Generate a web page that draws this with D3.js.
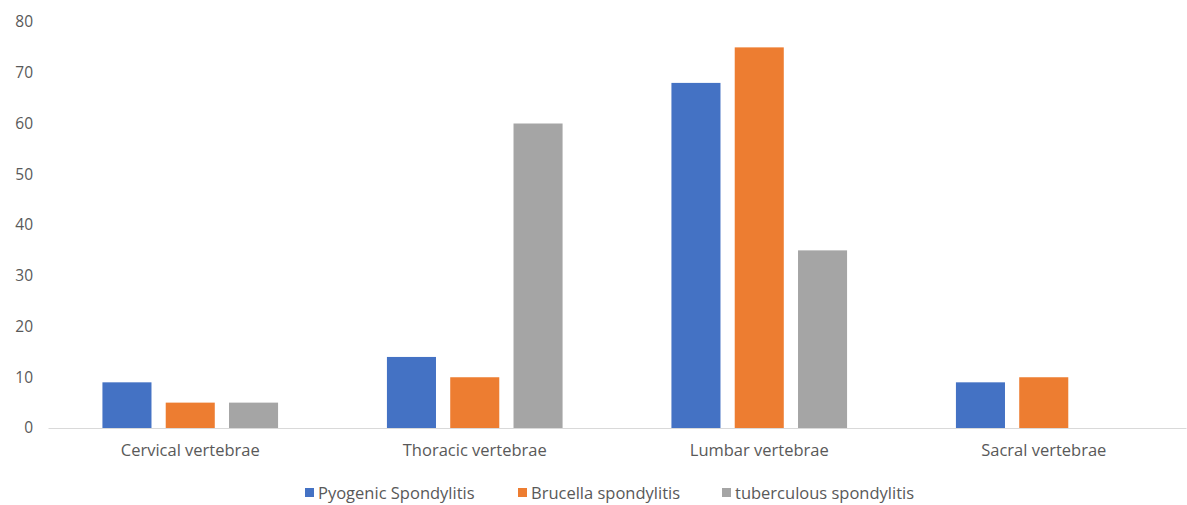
<!DOCTYPE html>
<html>
<head>
<meta charset="utf-8">
<script src="https://cdn.jsdelivr.net/npm/d3@7"></script>
<style>
  html, body { margin: 0; padding: 0; background: #fff; }
  svg { display: block; }
  text { font-family: "Open Sans", "Liberation Sans", sans-serif; fill: #595959; }
</style>
</head>
<body>
<svg id="chart" width="1187" height="505"></svg>
<script>
// Spinal segment involvement by spondylitis type
const categories = ["Cervical vertebrae", "Thoracic vertebrae", "Lumbar vertebrae", "Sacral vertebrae"];
const seriesNames = ["Pyogenic Spondylitis", "Brucella spondylitis", "tuberculous spondylitis"];
const pyogenic = [9, 14, 68, 9];
const brucella = [5, 10, 75, 10];
const tuberculous = [5, 60, 35, 0];
const yTicks = [0, 10, 20, 30, 40, 50, 60, 70, 80];
const colors = ["#4472C4", "#ED7D31", "#A5A5A5"];

const seriesValues = [pyogenic, brucella, tuberculous];

const svg = d3.select("#chart");
const margin = { left: 48, right: 1, top: 22, bottom: 428 };

const x0 = d3.scaleBand()
  .domain(categories)
  .range([margin.left, 1187 - margin.right])
  .paddingInner(0)
  .paddingOuter(0);

const x1 = d3.scaleBand()
  .domain(seriesNames)
  .range([0, x0.bandwidth()])
  .paddingInner(0.225)
  .paddingOuter(0.86);

const y = d3.scaleLinear()
  .domain([0, 80])
  .range([margin.bottom, margin.top]);

// Bars
const groups = svg.append("g")
  .selectAll("g")
  .data(categories)
  .join("g")
  .attr("transform", d => `translate(${x0(d)},0)`);

groups.selectAll("rect")
  .data((c, ci) => seriesNames.map((s, si) => ({ s, si, v: seriesValues[si][ci] })))
  .join("rect")
  .attr("x", d => x1(d.s))
  .attr("width", x1.bandwidth())
  .attr("y", d => y(d.v))
  .attr("height", d => y(0) - y(d.v))
  .attr("fill", d => colors[d.si]);

// Category axis
const xAxis = svg.append("g")
  .attr("transform", `translate(0,${y(0)})`)
  .call(d3.axisBottom(x0).tickSize(0).tickPadding(16));
xAxis.select(".domain").attr("stroke", "#d9d9d9").attr("stroke-width", 1.2);
xAxis.selectAll("text")
  .style("font-family", "'Open Sans', sans-serif")
  .style("font-size", "16.5px")
  .attr("fill", "#595959");

// Value axis (labels only)
const yAxis = svg.append("g")
  .attr("transform", `translate(33,0)`)
  .call(d3.axisLeft(y).tickValues(yTicks).tickSize(0).tickPadding(0));
yAxis.select(".domain").remove();
yAxis.selectAll("text")
  .style("font-family", "'Open Sans', sans-serif")
  .style("font-size", "15.5px")
  .attr("fill", "#595959");

// Legend
const legendX = [305, 518, 722];
const legend = svg.append("g")
  .selectAll("g")
  .data(seriesNames)
  .join("g")
  .attr("transform", (d, i) => `translate(${legendX[i]},493)`);
legend.append("rect")
  .attr("x", 0).attr("y", -5)
  .attr("width", 9).attr("height", 9)
  .attr("fill", (d, i) => colors[i]);
legend.append("text")
  .attr("x", 13)
  .attr("dy", "0.35em")
  .style("font-size", "16.5px")
  .text(d => d);
</script>
</body>
</html>
